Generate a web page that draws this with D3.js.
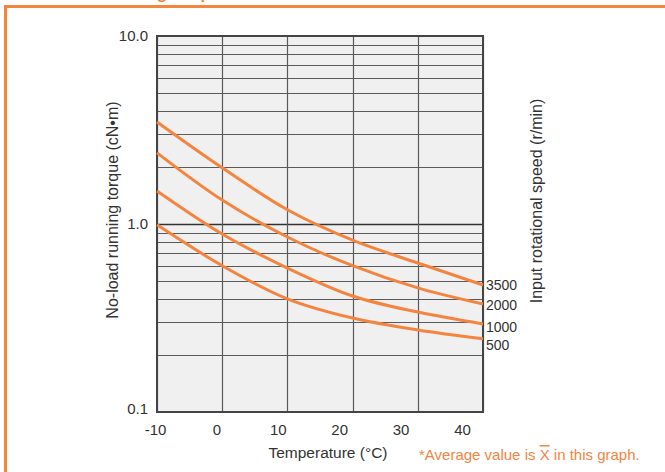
<!DOCTYPE html>
<html>
<head>
<meta charset="utf-8">
<script src="https://cdn.jsdelivr.net/npm/d3@7"></script>
<style>
  body { margin: 0; background: #fff; }
  text { font-family: "Liberation Sans", Arial, sans-serif; }
</style>
</head>
<body>
<div id="chart"></div>
<script>
var svgWidth = 665;
var svgHeight = 472;

var margin = {top: 36, right: 182, bottom: 60, left: 157};
var width = svgWidth - margin.left - margin.right;
var height = svgHeight - margin.top - margin.bottom;

// temperature (°C)
var temps = [-10, 0, 10, 20, 30, 40];
// torque (cN·m) per input speed
var speeds = ['3500', '2000', '1000', '500'];
var torque3500 = [3.49, 1.99, 1.19, 0.82, 0.62, 0.474];
var torque2000 = [2.39, 1.34, 0.853, 0.60, 0.457, 0.375];
var torque1000 = [1.50, 0.885, 0.583, 0.414, 0.34, 0.294];
var torque500 = [0.99, 0.60, 0.40, 0.316, 0.273, 0.245];
var series = [torque3500, torque2000, torque1000, torque500];

var xTicks = [-10, 0, 10, 20, 30, 40];
var yTicks = [0.1, 1, 10];
var yTickLabels = ['0.1', '1.0', '10.0'];

var orange = '#f5843f';

var svg = d3.select('#chart').append('svg')
    .attr('width', svgWidth)
    .attr('height', svgHeight);

// orange frame (title above is cut off in the original)
svg.append('text')
    .attr('x', 36)
    .attr('y', -1)
    .attr('fill', orange)
    .attr('font-size', '17px')
    .attr('font-weight', 'bold')
    .text('No-load running torque');
svg.append('path')
    .attr('d', 'M5.5,472 V6.5 H665')
    .attr('fill', 'none')
    .attr('stroke', orange)
    .attr('stroke-width', 3);

var chartGroup = svg.append('g')
    .attr('transform', `translate(${margin.left}, ${margin.top})`);

var xScale = d3.scaleLinear().domain([-10, 40]).range([0, width]);
// the tick labels in the original sit a bit off the grid lines
var xLabelScale = d3.scaleLinear().domain([-10, 40]).range([-2, 305]);
var yScale = d3.scaleLog().domain([0.1, 10]).range([height, 0]);

chartGroup.append('rect')
    .attr('width', width)
    .attr('height', height)
    .attr('fill', '#f0f0f0');

// horizontal grid (log minor lines)
var gridVals = [];
[0.1, 1].forEach(function(dec){
    for (var i = 2; i <= 9; i++) gridVals.push(dec * i);
});
chartGroup.selectAll('.hgrid')
    .data(gridVals)
    .enter()
    .append('line')
    .attr('x1', 0)
    .attr('x2', width)
    .attr('y1', d => Math.round(yScale(d)) + 0.5)
    .attr('y2', d => Math.round(yScale(d)) + 0.5)
    .attr('stroke', '#5a5a5a')
    .attr('stroke-width', 1.2);
chartGroup.append('line')
    .attr('x1', 0).attr('x2', width)
    .attr('y1', Math.round(yScale(1)) + 0.5)
    .attr('y2', Math.round(yScale(1)) + 0.5)
    .attr('stroke', '#333')
    .attr('stroke-width', 1.3);

// vertical grid
chartGroup.selectAll('.vgrid')
    .data(xTicks)
    .enter()
    .append('line')
    .attr('x1', d => Math.round(xScale(d)) + 0.5)
    .attr('x2', d => Math.round(xScale(d)) + 0.5)
    .attr('y1', 0)
    .attr('y2', height)
    .attr('stroke', '#5a5a5a')
    .attr('stroke-width', 1.2);

chartGroup.append('rect')
    .attr('width', width)
    .attr('height', height)
    .attr('fill', 'none')
    .attr('stroke', '#444')
    .attr('stroke-width', 2);

// curves
var line = d3.line()
    .x((d, i) => xScale(temps[i]))
    .y(d => yScale(d))
    .curve(d3.curveMonotoneX);

chartGroup.selectAll('.curve')
    .data(series)
    .enter()
    .append('path')
    .attr('d', line)
    .attr('fill', 'none')
    .attr('stroke', orange)
    .attr('stroke-width', 3);

// speed labels at curve ends
var labelShift = [0, 1, 3, 6];
chartGroup.selectAll('.speedLabel')
    .data(series)
    .enter()
    .append('text')
    .attr('x', width + 3)
    .attr('y', (d, i) => yScale(d[d.length - 1]) + labelShift[i])
    .attr('dy', '0.35em')
    .attr('font-size', '14px')
    .attr('fill', '#333')
    .text((d, i) => speeds[i]);

// axis labels
var bottomAxis = d3.axisBottom(xLabelScale)
    .tickValues(xTicks)
    .tickFormat(d => String(d))
    .tickSize(0)
    .tickPadding(12);
var xAxis = chartGroup.append('g')
    .attr('transform', `translate(0, ${height})`)
    .call(bottomAxis);
xAxis.select('.domain').remove();
xAxis.selectAll('text')
    .attr('font-size', '15px')
    .attr('font-family', '"Liberation Sans", Arial, sans-serif')
    .attr('fill', '#333');

var leftAxis = d3.axisLeft(yScale)
    .tickValues(yTicks)
    .tickFormat((d, i) => yTickLabels[i])
    .tickSize(0)
    .tickPadding(9);
var yAxis = chartGroup.append('g')
    .call(leftAxis);
yAxis.select('.domain').remove();
yAxis.selectAll('text')
    .attr('font-size', '15px')
    .attr('font-family', '"Liberation Sans", Arial, sans-serif')
    .attr('fill', '#333');
yAxis.selectAll('.tick')
    .filter(d => d === 0.1)
    .select('text')
    .attr('dy', '0.1em');

// titles
chartGroup.append('text')
    .attr('x', 171)
    .attr('y', height + 46)
    .attr('text-anchor', 'middle')
    .attr('font-size', '15.5px')
    .attr('fill', '#333')
    .text('Temperature (°C)');

chartGroup.append('text')
    .attr('transform', `translate(-39, ${height / 2 - 14}) rotate(-90)`)
    .attr('text-anchor', 'middle')
    .attr('font-size', '16px')
    .attr('fill', '#333')
    .text('No-load running torque (cN•m)');

chartGroup.append('text')
    .attr('transform', `translate(${width + 59}, ${height / 2 - 23}) rotate(-90)`)
    .attr('text-anchor', 'middle')
    .attr('font-size', '16px')
    .attr('fill', '#333')
    .text('Input rotational speed (r/min)');

// footnote
var note = svg.append('text')
    .attr('x', 419)
    .attr('y', 460)
    .attr('font-size', '15px')
    .attr('fill', orange);
note.append('tspan').text('*Average value is ');
note.append('tspan')
    .attr('text-decoration', 'overline')
    .text('X');
note.append('tspan').text(' in this graph.');
</script>
</body>
</html>
